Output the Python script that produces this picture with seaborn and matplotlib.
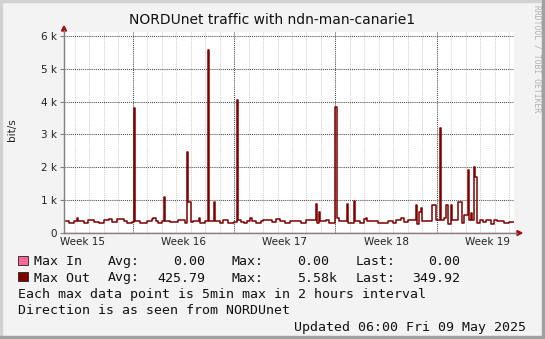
import numpy as np
import pandas as pd
import matplotlib
matplotlib.use("Agg")
import matplotlib.pyplot as plt
import seaborn as sns
from matplotlib.patches import Rectangle, Polygon
from matplotlib.lines import Line2D

# ---------------- data (hours since start of graph, bit/s) ----------------
seg_start_h = [0, 9, 16, 22, 24, 33, 40, 49, 58, 66, 74, 80, 88, 99, 104, 113,
               116, 118, 126, 138, 146, 148, 153, 156, 162, 165, 167, 176, 189,
               200, 204, 206, 210, 214, 223, 225, 234, 238, 240, 249, 251, 259,
               264, 272, 282, 286, 288, 294, 298, 304, 308, 311, 319, 327, 330,
               344, 352, 358, 366, 374, 393, 402, 418, 420, 422, 424, 434, 440,
               450, 452, 456, 469, 471, 481, 483, 490, 498, 501, 503, 520, 537,
               545, 550, 559, 564, 570, 584, 586, 589, 592, 594, 610, 616, 623,
               625, 630, 634, 636, 641, 643, 653, 659, 663, 669, 671, 674, 676,
               680, 682, 684, 690, 694, 700, 708, 713, 717, 730, 738]
max_out_bits = [377, 296, 377, 449, 377, 296, 398, 347, 296, 398, 428, 347, 428,
                377, 296, 347, 3820, 377, 296, 377, 428, 449, 377, 296, 377, 1090,
                377, 325, 398, 296, 2480, 930, 347, 377, 449, 296, 377, 5580, 377,
                930, 377, 296, 398, 296, 347, 4040, 398, 347, 296, 377, 449, 377,
                296, 377, 398, 325, 418, 377, 296, 377, 296, 398, 890, 296, 630,
                377, 398, 296, 3850, 449, 377, 890, 296, 980, 377, 296, 428, 470,
                377, 296, 377, 296, 398, 449, 347, 398, 860, 280, 650, 760, 380,
                860, 400, 3200, 400, 450, 860, 280, 860, 400, 940, 290, 550, 1930,
                400, 620, 400, 2000, 1720, 290, 400, 350, 400, 280, 400, 370, 290,
                350]
span_end_h = 746
week_start_h = [114, 282, 450, 618]
week_labels = ["Week 15", "Week 16", "Week 17", "Week 18", "Week 19"]
week_label_h = [30, 198, 366, 534, 702]
y_ticks = [0, 1000, 2000, 3000, 4000, 5000, 6000]
y_tick_labels = ["0", "1 k", "2 k", "3 k", "4 k", "5 k", "6 k"]

legend_rows = [
    ("Max In", "0.00", "0.00", "0.00"),
    ("Max Out", "425.79", "5.58k", "349.92"),
]
note_lines = ["Each max data point is 5min max in 2 hours interval",
              "Direction is as seen from NORDUnet"]
updated_text = "Updated 06:00 Fri 09 May 2025"
title_text = "NORDUnet traffic with ndn-man-canarie1"

# ---------------- figure ----------------
sns.set_style("white")
plt.rcParams["font.family"] = ["DejaVu Sans"]

W, H = 545, 339
fig = plt.figure(figsize=(W / 100, H / 100), dpi=100, facecolor="#f3f3f3")


def fx(px):
    return px / W


def fy(py):
    return 1 - py / H


ax = fig.add_axes([fx(64), fy(233), fx(514) - fx(64), fy(32) - fy(233)])
ax.set_facecolor("white")

df = pd.DataFrame({"hour": seg_start_h + [span_end_h],
                   "bits": max_out_bits + [max_out_bits[-1]]})
df_in = pd.DataFrame({"hour": [0, span_end_h], "bits": [0, 0]})

# grid
day_lines = [h for h in range(18, span_end_h, 24) if h not in week_start_h]
for h in day_lines:
    ax.axvline(h, color="#cfcfcf", lw=0.75, linestyle=(0, (1, 1)), zorder=1)
for h in week_start_h:
    ax.axvline(h, color="#4a4a4a", lw=0.75, linestyle=(0, (1, 1)), zorder=1)
for v in y_ticks[1:]:
    ax.axhline(v, color="#4a4a4a", lw=0.75, linestyle=(0, (1, 1)), zorder=1)

sns.lineplot(data=df_in, x="hour", y="bits", ax=ax, color="#ff6699", lw=1.0,
             drawstyle="steps-post", estimator=None, sort=False, zorder=2)
sns.lineplot(data=df, x="hour", y="bits", ax=ax, color="#7f0000", lw=1.1,
             drawstyle="steps-post", estimator=None, sort=False, zorder=3)

ax.set_xlim(0, span_end_h)
ax.set_ylim(0, 6120)
ax.set_xlabel("")
ax.set_ylabel("")

ax.set_yticks(y_ticks)
ax.set_yticklabels(y_tick_labels)
ax.set_xticks(week_label_h)
ax.set_xticklabels(week_labels)
ax.tick_params(axis="y", length=3, width=0.8, color="#808080", pad=2,
               labelsize=7.5, labelcolor="#222222", left=True)
ax.tick_params(axis="x", length=0, pad=3, labelsize=7.5, labelcolor="#222222",
               bottom=True)

for s in ["top", "right"]:
    ax.spines[s].set_visible(False)
for s in ["left", "bottom"]:
    ax.spines[s].set_color("#808080")
    ax.spines[s].set_linewidth(1.0)
    ax.spines[s].set_zorder(4)

# axis extensions and arrows (figure pixel coords)
fig.add_artist(Line2D([fx(64), fx(64)], [fy(32), fy(30)], color="#808080", lw=1.0))
fig.add_artist(Line2D([fx(514), fx(517)], [fy(233), fy(233)], color="#808080", lw=1.0))
fig.add_artist(Polygon([[fx(61.5), fy(31)], [fx(66.5), fy(31)], [fx(64), fy(26)]],
                       closed=True, color="#a01010", transform=fig.transFigure))
fig.add_artist(Polygon([[fx(517), fy(230.5)], [fx(517), fy(235.5)], [fx(522), fy(233)]],
                       closed=True, color="#a01010", transform=fig.transFigure))

# title, labels
fig.text(fx(272), fy(20), title_text, ha="center", va="center", fontsize=10,
         color="#111111")
fig.text(fx(12), fy(130), "bit/s", ha="center", va="center", rotation=90,
         fontsize=7.5, color="#222222")
fig.text(fx(537), fy(59), "RRDTOOL / TOBI OETIKER", ha="center", va="center",
         rotation=270, fontsize=5.8, color="#b0b0b0", family="DejaVu Sans Mono")

# legend
mono = dict(family="DejaVu Sans Mono", fontsize=9.5, color="#111111", va="baseline")
row_baseline = [265, 281.5]
swatch_colors = ["#ff6699", "#7f0000"]
for (name, avg, mx, last), yb, c in zip(legend_rows, row_baseline, swatch_colors):
    fig.add_artist(Rectangle((fx(17.5), fy(yb - 0.5)), fx(10), 9 / H, facecolor=c,
                             edgecolor="#222222", lw=0.6, transform=fig.transFigure))
    fig.text(fx(33.5), fy(yb), name, ha="left", **mono)
    fig.text(fx(108), fy(yb), "Avg:", ha="left", **mono)
    fig.text(fx(205), fy(yb), avg, ha="right", **mono)
    fig.text(fx(232), fy(yb), "Max:", ha="left", **mono)
    fig.text(fx(337 if mx.endswith("k") else 329), fy(yb), mx, ha="right", **mono)
    fig.text(fx(356), fy(yb), "Last:", ha="left", **mono)
    fig.text(fx(460.5), fy(yb), last, ha="right", **mono)

fig.text(fx(18), fy(298), note_lines[0], ha="left", **mono)
fig.text(fx(18), fy(314.5), note_lines[1], ha="left", **mono)
fig.text(fx(526.5), fy(331), updated_text, ha="right", **mono)

# 3D border
fig.add_artist(Rectangle((0, 0), fx(2), 1, color="#d2d2d2", transform=fig.transFigure))
fig.add_artist(Rectangle((0, fy(2)), 1, 2 / H, color="#d2d2d2", transform=fig.transFigure))
fig.add_artist(Rectangle((fx(542), 0), fx(3), 1, color="#a0a0a0", transform=fig.transFigure))
fig.add_artist(Rectangle((0, 0), 1, 3 / H, color="#a0a0a0", transform=fig.transFigure))

fig.savefig("out.png", dpi=100, facecolor=fig.get_facecolor())
